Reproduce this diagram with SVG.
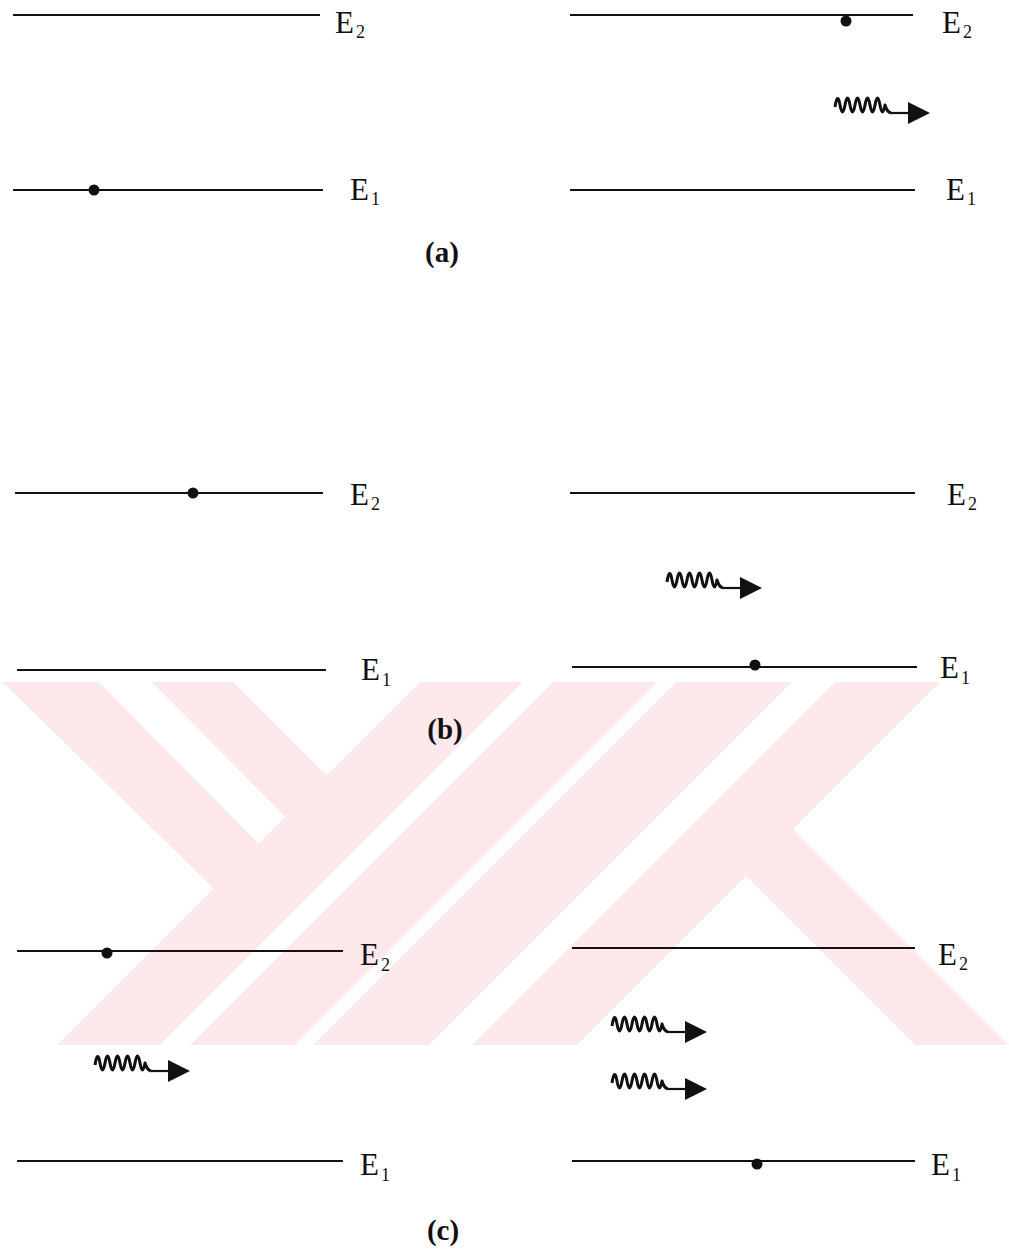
<svg xmlns="http://www.w3.org/2000/svg" xmlns:xlink="http://www.w3.org/1999/xlink" width="1009" height="1256" viewBox="0 0 1009 1256">
<style>
.lvl{stroke:#111;stroke-width:2;fill:none}
.dot{fill:#111}
.lbl{font-family:"Liberation Serif",serif;font-size:31px;fill:#111}
.sub{font-family:"Liberation Serif",serif;font-size:18px;fill:#111}
.cap{font-family:"Liberation Serif",serif;font-weight:bold;font-size:29px;fill:#111;text-anchor:middle}
.wm{fill:#fde8ec}
.wave{fill:none;stroke:#111;stroke-width:3;stroke-linejoin:round}
.shaft{stroke:#111;stroke-width:2.2}
</style>
<defs>
<clipPath id="band"><rect x="0" y="682" width="1009" height="363"/></clipPath>
<g id="photon">
<path class="wave" d="M0,-6 Q2.5,-22 5,-8 T10,-8 T15,-8 T20,-8 T25,-8 T30,-8 T35,-8 T40,-8 T45,-8 T50,-8 Q52,-1 56,0"/>
<line class="shaft" x1="56" y1="0" x2="75" y2="0"/>
<polygon class="dot" points="73,-11 73,11 95,0"/>
</g>
</defs>
<rect width="1009" height="1256" fill="#fff"/>
<g id="watermark" clip-path="url(#band)">
<polygon class="wm" points="-20,660 77,660 258.5,843.5 213.5,888.5"/>
<polygon class="wm" points="130,660 211,660 326.5,775.5 285,817"/>
<polygon class="wm" points="442,660 545,660 140,1065 37,1065"/>
<polygon class="wm" points="575,660 680,660 275,1065 170,1065"/>
<polygon class="wm" points="698,660 814,660 409,1065 293,1065"/>
<polygon class="wm" points="857,660 962,660 557,1065 452,1065"/>
<polygon class="wm" points="793,829 1040,1076 946,1076 746,876"/>
</g>
<g id="connectors">
<use xlink:href="#photon" transform="translate(835,113)"/>
<use xlink:href="#photon" transform="translate(667,588)"/>
<use xlink:href="#photon" transform="translate(95,1071)"/>
<use xlink:href="#photon" transform="translate(612,1032)"/>
<use xlink:href="#photon" transform="translate(612,1089)"/>
</g>
<g id="panel-a-left">
<line class="lvl" x1="13" y1="15" x2="320" y2="15"/>
<text class="lbl" x="335" y="33">E</text><text class="sub" x="356" y="38">2</text>
<line class="lvl" x1="13" y1="190" x2="323" y2="190"/>
<circle class="dot" cx="94" cy="190" r="5.5"/>
<text class="lbl" x="350" y="200">E</text><text class="sub" x="371" y="205">1</text>
</g>
<g id="panel-a-right">
<line class="lvl" x1="570" y1="15" x2="913" y2="15"/>
<circle class="dot" cx="846" cy="21" r="5.5"/>
<text class="lbl" x="942" y="33">E</text><text class="sub" x="963" y="38">2</text>
<line class="lvl" x1="570" y1="190" x2="915" y2="190"/>
<text class="lbl" x="946" y="200">E</text><text class="sub" x="967" y="205">1</text>
</g>
<text id="caption-a" class="cap" x="442" y="262">(a)</text>
<g id="panel-b-left">
<line class="lvl" x1="15" y1="493" x2="323" y2="493"/>
<circle class="dot" cx="193" cy="493" r="5.5"/>
<text class="lbl" x="350" y="505">E</text><text class="sub" x="371" y="510">2</text>
<line class="lvl" x1="17" y1="670" x2="326" y2="670"/>
<text class="lbl" x="361" y="680">E</text><text class="sub" x="382" y="686">1</text>
</g>
<g id="panel-b-right">
<line class="lvl" x1="570" y1="493" x2="915" y2="493"/>
<text class="lbl" x="947" y="505">E</text><text class="sub" x="968" y="510">2</text>
<line class="lvl" x1="572" y1="667" x2="917" y2="667"/>
<circle class="dot" cx="755" cy="665" r="5.5"/>
<text class="lbl" x="940" y="678">E</text><text class="sub" x="961" y="684">1</text>
</g>
<text id="caption-b" class="cap" x="445" y="739">(b)</text>
<g id="panel-c-left">
<line class="lvl" x1="17" y1="951" x2="343" y2="951"/>
<circle class="dot" cx="107" cy="953" r="5.5"/>
<text class="lbl" x="360" y="965">E</text><text class="sub" x="381" y="971">2</text>
<line class="lvl" x1="17" y1="1161" x2="343" y2="1161"/>
<text class="lbl" x="360" y="1175">E</text><text class="sub" x="381" y="1181">1</text>
</g>
<g id="panel-c-right">
<line class="lvl" x1="572" y1="948" x2="915" y2="948"/>
<text class="lbl" x="938" y="965">E</text><text class="sub" x="959" y="970">2</text>
<line class="lvl" x1="572" y1="1161" x2="915" y2="1161"/>
<circle class="dot" cx="757" cy="1164" r="5.5"/>
<text class="lbl" x="931" y="1175">E</text><text class="sub" x="952" y="1181">1</text>
</g>
<text id="caption-c" class="cap" x="443" y="1240">(c)</text>
</svg>
